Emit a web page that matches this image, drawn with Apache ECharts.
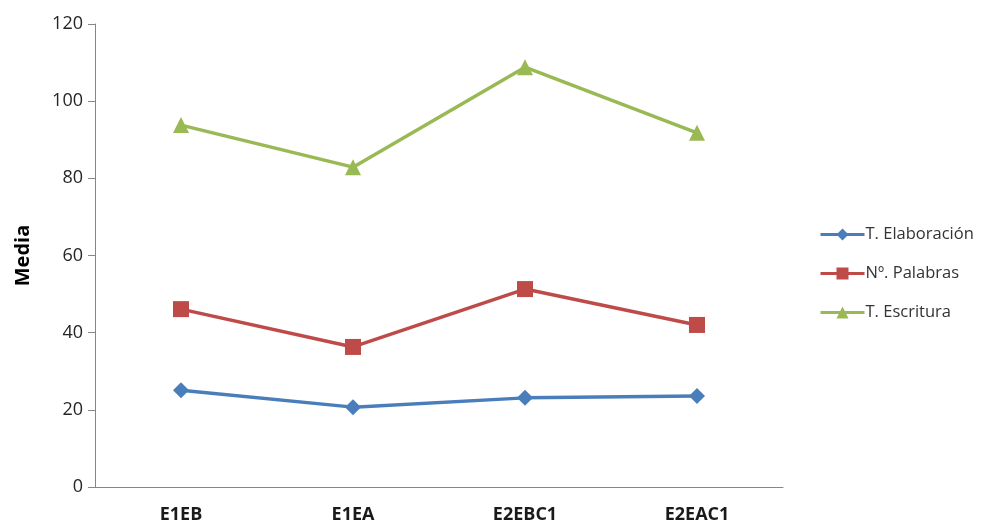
<!DOCTYPE html>
<html><head><meta charset="utf-8">
<script src="https://cdn.jsdelivr.net/npm/echarts@6/dist/echarts.min.js"></script>
<style>html,body{margin:0;padding:0;background:#fff}#c{width:987px;height:527px}</style>
</head><body><div id="c"></div>
<script>
const categories = ['E1EB', 'E1EA', 'E2EBC1', 'E2EAC1'];
const seriesNames = ['T. Elaboración', 'Nº. Palabras', 'T. Escritura'];
const elaboracion = [25.1, 20.7, 23.1, 23.6];
const palabras = [46.1, 36.3, 51.3, 42.0];
const escritura = [93.8, 82.9, 108.8, 91.8];
const yTicks = [0, 20, 40, 60, 80, 100, 120];

const font = '"Open Sans", "Liberation Sans", sans-serif';
const chart = echarts.init(document.getElementById('c'), null, {renderer: 'canvas'});
function mk(name, data, color, symbol, size) {
  return {
    name, type: 'line', data, symbol, symbolSize: size,
    lineStyle: {color, width: 3.5}, itemStyle: {color},
    animation: false
  };
}
chart.setOption({
  animation: false,
  backgroundColor: '#fff',
  grid: {left: 95, right: 204, top: 24, bottom: 40},
  legend: {
    orient: 'vertical', left: 814, top: 221, itemGap: 22,
    itemWidth: 44, itemHeight: 15,
    lineStyle: {width: 3},
    textStyle: {fontFamily: font, fontSize: 16.5, color: '#333', padding: [0, 0, 0, -4]},
    data: seriesNames
  },
  xAxis: {
    type: 'category', data: categories, boundaryGap: true,
    axisLine: {lineStyle: {color: '#868686', width: 1}},
    axisTick: {show: false},
    axisLabel: {fontFamily: font, fontSize: 18, fontWeight: 'bold', color: '#1a1a1a', margin: 19}
  },
  yAxis: {
    type: 'value', min: yTicks[0], max: yTicks[yTicks.length - 1], interval: 20,
    name: 'Media', nameLocation: 'middle', nameGap: 62, nameRotate: 90,
    nameTextStyle: {fontFamily: font, fontSize: 20, fontWeight: 'bold', color: '#000'},
    axisLine: {show: true, lineStyle: {color: '#868686', width: 1}},
    axisTick: {show: true, inside: false, length: 7, lineStyle: {color: '#868686'}},
    splitLine: {show: false},
    axisLabel: {fontFamily: font, fontSize: 18, color: '#262626', margin: 12}
  },
  series: [
    mk(seriesNames[0], elaboracion, '#4A7EBB', 'diamond', 16),
    mk(seriesNames[1], palabras, '#BE4B48', 'rect', 16),
    mk(seriesNames[2], escritura, '#98B954', 'triangle', 16)
  ]
});
</script></body></html>
